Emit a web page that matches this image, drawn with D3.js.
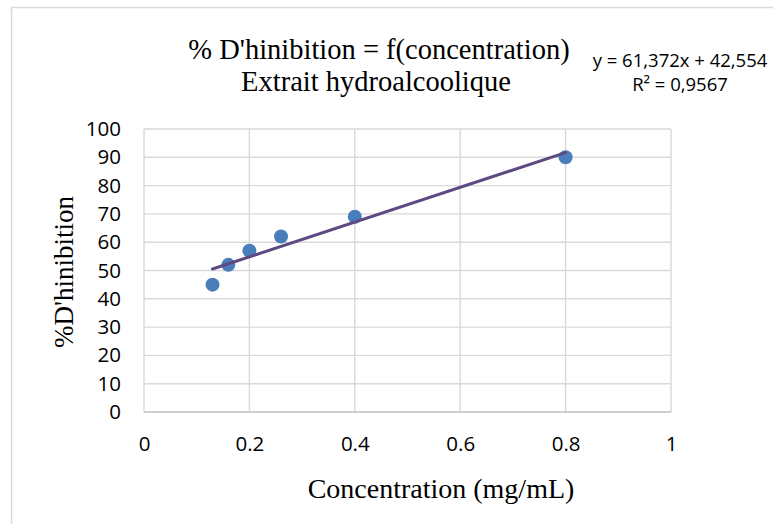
<!doctype html>
<html lang="fr">
<head>
<meta charset="utf-8">
<title>% D'hinibition</title>
<style>
  body { margin: 0; background: #fff; }
  .tick text { font-family: "Open Sans", sans-serif; font-size: 20.5px; fill: #000; }
  .serif { font-family: "Liberation Serif", "Times New Roman", serif; fill: #000; }
</style>
</head>
<body>
<div id="chart"></div>
<script src="https://d3js.org/d3.v7.min.js"></script>
<script>
  // data
  var concentration = [0.13, 0.16, 0.2, 0.26, 0.4, 0.8];
  var inhibition = [45, 52, 57, 62, 69, 90];
  var xTicks = [0, 0.2, 0.4, 0.6, 0.8, 1];
  var yTicks = [0, 10, 20, 30, 40, 50, 60, 70, 80, 90, 100];
  var slope = 61.372, intercept = 42.554;
  var equationLines = ['y = 61,372x + 42,554', 'R² = 0,9567'];

  var width = 773, height = 524;

  var svg = d3.select('#chart')
    .append('svg')
    .attr('width', width)
    .attr('height', height);

  // outer chart border (only left/top visible)
  svg.append('rect')
    .attr('x', 11.5).attr('y', 7.5)
    .attr('width', 800).attr('height', 600)
    .attr('fill', 'none')
    .attr('stroke', '#d9d9d9')
    .attr('stroke-width', 1.5);

  var xscale = d3.scaleLinear().domain([0, 1]).range([144, 671]);
  var yscale = d3.scaleLinear().domain([0, 100]).range([412, 129]);

  // gridlines
  svg.append('g')
    .selectAll('line.v')
    .data(xTicks)
    .enter()
    .append('line')
    .attr('x1', function(d){ return xscale(d); })
    .attr('x2', function(d){ return xscale(d); })
    .attr('y1', yscale(0)).attr('y2', yscale(100))
    .attr('stroke', '#d9d9d9').attr('stroke-width', 1.4);

  svg.append('g')
    .selectAll('line.h')
    .data(yTicks)
    .enter()
    .append('line')
    .attr('x1', xscale(0)).attr('x2', xscale(1))
    .attr('y1', function(d){ return yscale(d); })
    .attr('y2', function(d){ return yscale(d); })
    .attr('stroke', function(d){ return d === 0 ? '#bfbfbf' : '#d9d9d9'; })
    .attr('stroke-width', 1.4);

  // axes (labels only)
  var xaxis = d3.axisBottom(xscale)
    .tickValues(xTicks)
    .tickSize(0)
    .tickPadding(24)
    .tickFormat(function(d){ return d === 0 || d === 1 ? d3.format('d')(d) : d3.format('.1f')(d); });

  svg.append('g')
    .attr('class', 'x-axis')
    .attr('transform', 'translate(0,' + yscale(0) + ')')
    .call(xaxis)
    .call(function(g){ g.select('.domain').remove(); });

  var yaxis = d3.axisLeft(yscale)
    .tickValues(yTicks)
    .tickSize(0)
    .tickPadding(23);

  svg.append('g')
    .attr('class', 'y-axis')
    .attr('transform', 'translate(' + xscale(0) + ',0)')
    .call(yaxis)
    .call(function(g){ g.select('.domain').remove(); });

  // points
  svg.append('g').selectAll('circle')
    .data(concentration)
    .enter()
    .append('circle')
    .attr('cx', function(d){ return xscale(d); })
    .attr('cy', function(d, i){ return yscale(inhibition[i]); })
    .attr('r', 7)
    .attr('fill', '#4a7ebb');

  // linear trendline over data range
  var xmin = d3.min(concentration), xmax = d3.max(concentration);
  svg.append('line')
    .attr('x1', xscale(xmin)).attr('y1', yscale(slope * xmin + intercept))
    .attr('x2', xscale(xmax)).attr('y2', yscale(slope * xmax + intercept))
    .attr('stroke', '#5e4a82')
    .attr('stroke-width', 3)
    .attr('stroke-linecap', 'round');

  // titles
  svg.append('text').attr('class', 'serif')
    .attr('x', 379).attr('y', 59)
    .attr('text-anchor', 'middle')
    .style('font-size', '28.5px')
    .text("% D'hinibition = f(concentration)");

  svg.append('text').attr('class', 'serif')
    .attr('x', 376).attr('y', 91)
    .attr('text-anchor', 'middle')
    .style('font-size', '28.5px')
    .text('Extrait hydroalcoolique');

  svg.append('g').selectAll('text')
    .data(equationLines)
    .enter()
    .append('text')
    .attr('x', 680)
    .attr('y', function(d, i){ return 67 + i * 24; })
    .attr('text-anchor', 'middle')
    .style('font-family', '"Open Sans", sans-serif')
    .style('font-size', '18.5px')
    .text(function(d){ return d; });

  svg.append('text').attr('class', 'serif')
    .attr('x', 441).attr('y', 498)
    .attr('text-anchor', 'middle')
    .style('font-size', '28px')
    .text('Concentration (mg/mL)');

  svg.append('text').attr('class', 'serif')
    .attr('transform', 'translate(73,272) rotate(-90)')
    .attr('text-anchor', 'middle')
    .style('font-size', '27px')
    .text("%D'hinibition");
</script>
</body>
</html>
